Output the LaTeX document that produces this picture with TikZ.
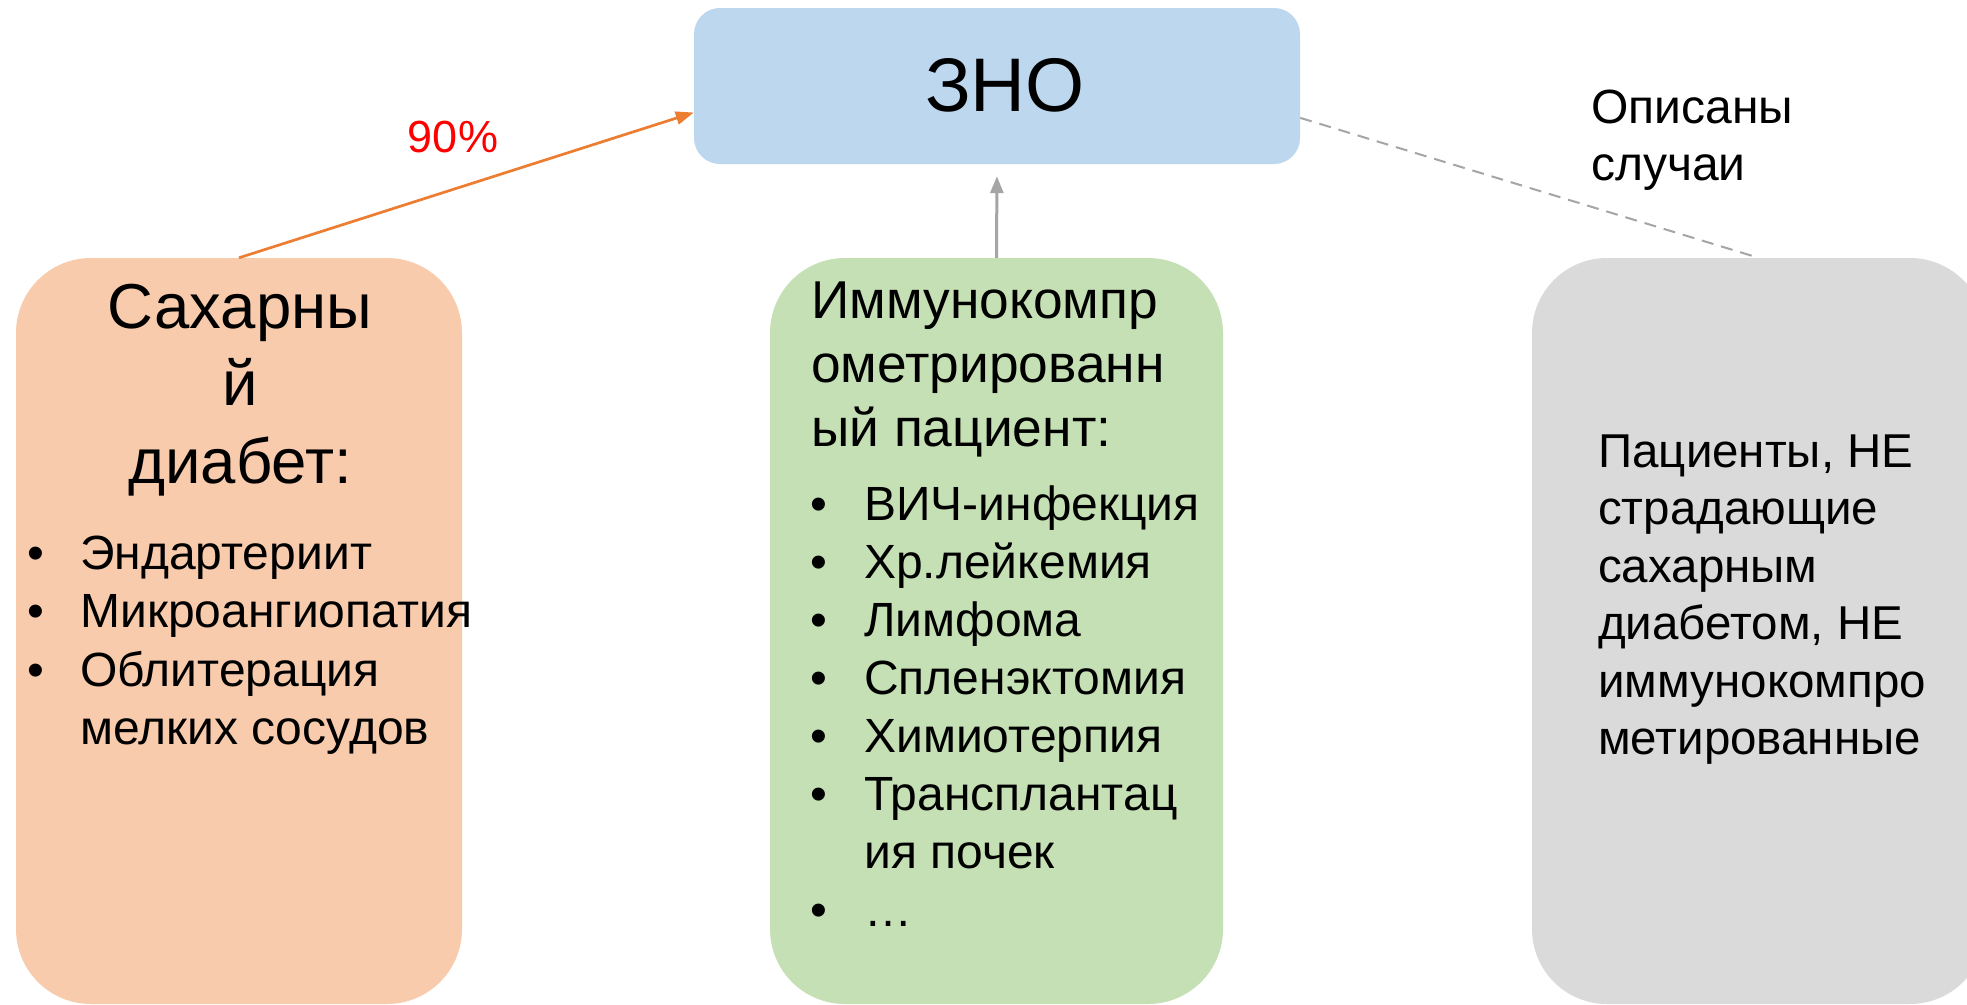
\documentclass[tikz,border=0pt]{standalone}
\usepackage{fontspec}
\setmainfont{Liberation Sans}
\usetikzlibrary{arrows.meta}
\definecolor{znoblue}{HTML}{BDD7EE}
\definecolor{diaborange}{HTML}{F8CBAD}
\definecolor{immgreen}{HTML}{C5E0B4}
\definecolor{othergray}{HTML}{DADADA}
\definecolor{arroworange}{HTML}{ED7D31}
\definecolor{arrowgray}{HTML}{A5A5A5}
\begin{document}
\begin{tikzpicture}[x=1pt,y=-1pt,
  bigbox/.style={rectangle, rounded corners=75pt, inner sep=0pt, minimum height=746pt},
  znobox/.style={rectangle, rounded corners=26pt, inner sep=0pt, fill=znoblue,
    minimum width=606pt, minimum height=156pt},
  orangearrow/.style={draw=arroworange, line width=2.7pt, -{Triangle[length=18pt,width=13pt]}},
  grayarrow/.style={draw=arrowgray, line width=3pt, -{Triangle[length=17pt,width=13pt]}, shorten >=12pt},
  graydash/.style={draw=arrowgray, line width=2pt, dash pattern=on 12pt off 8pt},
  titlezno/.style={font={\fontsize{76}{90}\selectfont}},
  titlebig/.style={font={\fontsize{63.5}{77.5}\selectfont}},
  titlemid/.style={font={\fontsize{53.3}{64}\selectfont}},
  bodytext/.style={font={\fontsize{48}{57}\selectfont}},
  pcttext/.style={font={\fontsize{45}{54}\selectfont}, text=red}
]
\useasboundingbox (0,0) rectangle (1967,1004);
\clip (0,0) rectangle (1967,1004);
\fill[white] (0,0) rectangle (1967,1004);

% boxes
\node[bigbox, fill=diaborange, minimum width=446pt] (diab) at (239,631) {};
\node[bigbox, fill=immgreen, minimum width=453pt] (imm) at (996.5,631) {};
\node[bigbox, fill=othergray, minimum width=453pt] (other) at (1758.5,631) {};
\node[znobox] (zno) at (997,86) {};
\node[titlezno, anchor=base, inner sep=0pt] (znotext) at (1005,111) {ЗНО};

% connectors
\draw[orangearrow] (diab.north) -- (zno.185.5);
\draw[grayarrow] (imm.north) -- (zno.south);
\draw[graydash] (zno.354.5) -- (other.north);

% labels
\node[pcttext, anchor=base, inner sep=0pt] (pct) at (453,152) {90\%};
\node[bodytext, anchor=base west, inner sep=0pt] (cases) at (1591,123)
  {\begin{tabular}[t]{@{}l@{}}Описаны\\случаи\end{tabular}};

% left box text
\node[titlebig, anchor=base, inner sep=0pt] (diabtitle) at (240,328)
  {\begin{tabular}[t]{@{}c@{}}Сахарны\\й\\диабет:\end{tabular}};
\node[font={\fontsize{48}{58.5}\selectfont}, anchor=base west, inner sep=0pt] (diablist) at (27,569)
  {\begin{tabular}[t]{@{}l@{}l@{}}
   \makebox[53pt][l]{•}&Эндартериит\\
   •&Микроангиопатия\\
   •&Облитерация\\
   &мелких сосудов
  \end{tabular}};

% middle box text
\node[titlemid, anchor=base west, inner sep=0pt] (immtitle) at (811,318)
  {\begin{tabular}[t]{@{}l@{}}Иммунокомпр\\ометрированн\\ый пациент:\end{tabular}};
\node[font={\fontsize{48}{58}\selectfont}, anchor=base west, inner sep=0pt] (immlist) at (810,520)
  {\begin{tabular}[t]{@{}l@{}l@{}}
   \makebox[54pt][l]{•}&ВИЧ-инфекция\\
   •&Хр.лейкемия\\
   •&Лимфома\\
   •&Спленэктомия\\
   •&Химиотерпия\\
   •&Трансплантац\\
   &ия почек\\
   •&…
  \end{tabular}};

% right box text
\node[font={\fontsize{47.5}{57.5}\selectfont}, anchor=base west, inner sep=0pt] (othertext) at (1598,467)
  {\begin{tabular}[t]{@{}l@{}}Пациенты, НЕ\\страдающие\\сахарным\\диабетом, НЕ\\иммунокомпро\\метированные\end{tabular}};
\end{tikzpicture}
\end{document}
